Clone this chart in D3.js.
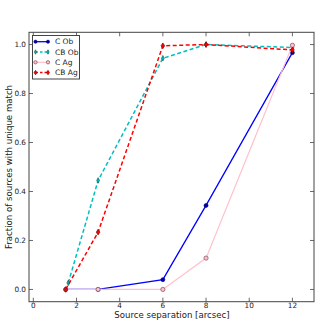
<!DOCTYPE html>
<html><head><meta charset="utf-8">
<script src="https://cdn.jsdelivr.net/npm/d3@7"></script>
<style>body{margin:0;background:#fff}svg{display:block}text{font-family:"DejaVu Sans",sans-serif}</style>
</head><body><svg id="c" width="324" height="324"></svg>
<script>
const xTicks = [0, 2, 4, 6, 8, 10, 12];
const yTicks = [0.0, 0.2, 0.4, 0.6, 0.8, 1.0];
const seriesNames = ["C Ob", "CB Ob", "C Ag", "CB Ag"];
const cObX = [1.5, 3, 6, 8, 12];
const cObY = [0.0, 0.0, 0.04, 0.343, 0.967];
const cbObX = [1.62, 3, 6, 8, 12];
const cbObY = [0.027, 0.445, 0.944, 1.0, 0.988];
const cAgX = [1.5, 3, 6, 8, 12];
const cAgY = [0.0, 0.0, 0.0, 0.128, 0.997];
const cbAgX = [1.5, 3, 6, 8, 12];
const cbAgY = [0.0, 0.234, 0.995, 1.0, 0.978];

const svg = d3.select("#c");
const L = 29, R = 314, T = 32.3, B = 301.7;
const x = d3.scaleLinear().domain([-0.2, 13]).range([L, R]);
const y = d3.scaleLinear().domain([-0.05, 1.05]).range([B, T]);

const styles = [
  {xs: cObX, ys: cObY, color: "#0000ff", width: 1.3, dash: null, marker: "circle", fill: "#0000aa", stroke: "#000080"},
  {xs: cbObX, ys: cbObY, color: "#00bfbf", width: 1.5, dash: "4,2.5", marker: "thin_diamond", fill: "#00bfbf", stroke: "#005050"},
  {xs: cAgX, ys: cAgY, color: "#ffc0cb", width: 1.2, dash: null, marker: "hollow", fill: "#ffc0cb", stroke: "#8a5a66"},
  {xs: cbAgX, ys: cbAgY, color: "#ff0000", width: 1.5, dash: "4,2.5", marker: "plus", fill: "#ff0000", stroke: "#800000"}
];

const plot = svg.append("g");
plot.append("defs").append("clipPath").attr("id","clip").append("rect")
  .attr("x", L).attr("y", T).attr("width", R-L).attr("height", B-T);

function drawMarker(g, kind, st, cx, cy, s) {
  s = s || 1;
  if (kind === "circle") {
    g.append("circle").attr("cx", cx).attr("cy", cy).attr("r", 2.0*s)
      .attr("fill", st.fill).attr("stroke", st.stroke).attr("stroke-width", 0.6);
  } else if (kind === "hollow") {
    g.append("circle").attr("cx", cx).attr("cy", cy).attr("r", 2.1*s)
      .attr("fill", st.fill).attr("stroke", st.stroke).attr("stroke-width", 0.8);
  } else if (kind === "thin_diamond") {
    g.append("path").attr("d", `M${cx},${cy-2.8*s}L${cx+1.4*s},${cy}L${cx},${cy+2.8*s}L${cx-1.4*s},${cy}Z`)
      .attr("fill", st.fill).attr("stroke", st.stroke).attr("stroke-width", 0.6);
  } else if (kind === "plus") {
    g.append("path").attr("d", `M${cx},${cy-2.8*s}L${cx+1.8*s},${cy}L${cx},${cy+2.8*s}L${cx-1.8*s},${cy}Z`)
      .attr("fill", st.fill).attr("stroke", st.stroke).attr("stroke-width", 0.7);
  }
}

const line = d3.line().x(d => x(d[0])).y(d => y(d[1]));
styles.forEach(st => {
  const pts = st.xs.map((v, i) => [v, st.ys[i]]);
  const g = plot.append("g").attr("clip-path", "url(#clip)");
  g.append("path").attr("d", line(pts)).attr("fill", "none")
    .attr("stroke", st.color).attr("stroke-width", st.width)
    .attr("stroke-dasharray", st.dash);
  pts.forEach(p => drawMarker(g, st.marker, st, x(p[0]), y(p[1])));
});

// frame
const frameColor = "#444";
svg.append("rect").attr("x", L).attr("y", T).attr("width", R-L).attr("height", B-T)
  .attr("fill", "none").attr("stroke", frameColor).attr("stroke-width", 1);

// ticks (inside, all four sides)
const tk = svg.append("g").attr("stroke", frameColor).attr("stroke-width", 0.8);
xTicks.forEach(t => {
  const px = x(t);
  tk.append("line").attr("x1", px).attr("x2", px).attr("y1", B).attr("y2", B-4);
  tk.append("line").attr("x1", px).attr("x2", px).attr("y1", T).attr("y2", T+4);
  svg.append("text").attr("x", px).attr("y", 308).attr("text-anchor", "middle")
    .attr("font-size", 7.3).attr("fill", "#222").text(d3.format("d")(t));
});
yTicks.forEach(t => {
  const py = y(t);
  tk.append("line").attr("x1", L).attr("x2", L+4).attr("y1", py).attr("y2", py);
  tk.append("line").attr("x1", R).attr("x2", R-4).attr("y1", py).attr("y2", py);
  svg.append("text").attr("x", L - 3).attr("y", py + 2.6).attr("text-anchor", "end")
    .attr("font-size", 7.3).attr("fill", "#222").text(d3.format(".1f")(t));
});

svg.append("text").attr("x", 172).attr("y", 318).attr("text-anchor", "middle")
  .attr("font-size", 8.6).attr("fill", "#222").text("Source separation [arcsec]");
svg.append("text").attr("transform", `translate(12,${(T+B)/2}) rotate(-90)`)
  .attr("text-anchor", "middle").attr("font-size", 8.6).attr("fill", "#222")
  .text("Fraction of sources with unique match");

// legend
const lg = svg.append("g");
lg.append("rect").attr("x", 32.5).attr("y", 35.5).attr("width", 47).attr("height", 43.5)
  .attr("fill", "#fff").attr("stroke", frameColor).attr("stroke-width", 1);
styles.forEach((st, i) => {
  const ly = 41.7 + i * 10.3;
  lg.append("line").attr("x1", 35.5).attr("x2", 48).attr("y1", ly).attr("y2", ly)
    .attr("stroke", st.color).attr("stroke-width", st.width).attr("stroke-dasharray", st.dash ? "2.5,2" : null);
  drawMarker(lg, st.marker, st, 35.5, ly, 0.8);
  drawMarker(lg, st.marker, st, 48, ly, 0.8);
  lg.append("text").attr("x", 55).attr("y", ly + 2.7).attr("font-size", 7.5).attr("fill", "#222")
    .text(seriesNames[i]);
});
</script></body></html>
